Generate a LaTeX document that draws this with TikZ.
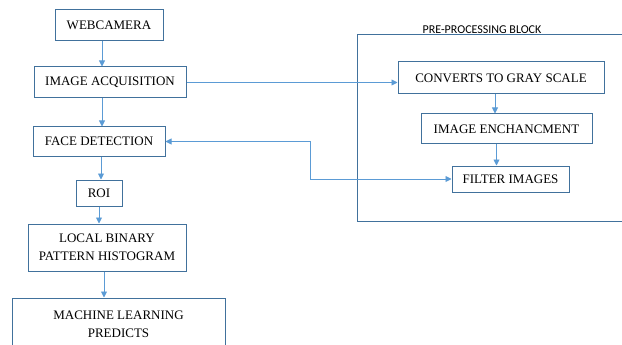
\documentclass[tikz,border=0pt]{standalone}
\usepackage{fontspec}
\setmainfont{Liberation Serif}
\newfontfamily\blocktitlefont{Carlito}
\usepackage{xcolor}
\usetikzlibrary{arrows.meta}
\definecolor{boxblue}{HTML}{41719C}
\definecolor{lineblue}{HTML}{5B9BD5}

\tikzset{
  blk/.style={draw=boxblue, line width=1pt, inner sep=0pt, align=center,
    font=\fontsize{13}{18}\selectfont},
  conn/.style={draw=lineblue, line width=0.9pt, -{Triangle[width=6pt,length=6pt]}}
}

\begin{document}
\begin{tikzpicture}[x=1pt, y=-1pt]
\useasboundingbox (0,0) rectangle (622,345);

% left column
\node[blk, minimum width=108, minimum height=31] (web) at (109,25.5) {WEBCAMERA};
\node[blk, minimum width=152, minimum height=31] (acq) at (110,82.5) {IMAGE ACQUISITION};
\node[blk, minimum width=132, minimum height=29] (face) at (99,141.5) {FACE DETECTION};
\node[blk, minimum width=46, minimum height=26] (roi) at (99,193) {ROI};
\node[blk, minimum width=158, minimum height=47] (lbp) at (107,247.5) {LOCAL BINARY\\PATTERN HISTOGRAM};
\node[blk, minimum width=213, minimum height=52] (ml) at (118.5,324) {MACHINE LEARNING\\PREDICTS};

% pre-processing block
\node[draw=boxblue, line width=1pt, minimum width=273, minimum height=186] (pre) at (493.5,128) {};
\node[font=\blocktitlefont\fontsize{12}{14}\selectfont, inner sep=0pt] (pretitle) at (482,29.5) {PRE-PROCESSING BLOCK};
\node[blk, minimum width=206, minimum height=32] (gray) at (501,78) {CONVERTS TO GRAY SCALE};
\node[blk, minimum width=171, minimum height=30] (enh) at (506.5,129) {IMAGE ENCHANCMENT};
\node[blk, minimum width=117, minimum height=26] (filt) at (510.5,179) {FILTER IMAGES};
\coordinate (bend) at (310,179);

% connectors
\draw[conn] ([xshift=-7]web.south) -- ([xshift=-8]acq.north);
\draw[conn] ([xshift=-8]acq.south) -- ([xshift=3]face.north);
\draw[conn] ([xshift=2]face.south) -- ([xshift=2]roi.north);
\draw[conn] (roi.south) -- (roi.south |- lbp.north);
\draw[conn] ([xshift=-3]lbp.south) -- ([xshift=-3]lbp.south |- ml.north);
\draw[conn] (acq.east) -- (acq.east -| gray.west);
\draw[conn] ([xshift=-6]gray.south) -- ([xshift=-6]gray.south |- enh.north);
\draw[conn] ([xshift=-10]enh.south) -- ([xshift=-10]enh.south |- filt.north);
\draw[conn, {Triangle[width=6pt,length=6pt]}-{Triangle[width=6pt,length=6pt]}] (face.east) -| (bend) -- (filt.west);
\end{tikzpicture}
\end{document}
